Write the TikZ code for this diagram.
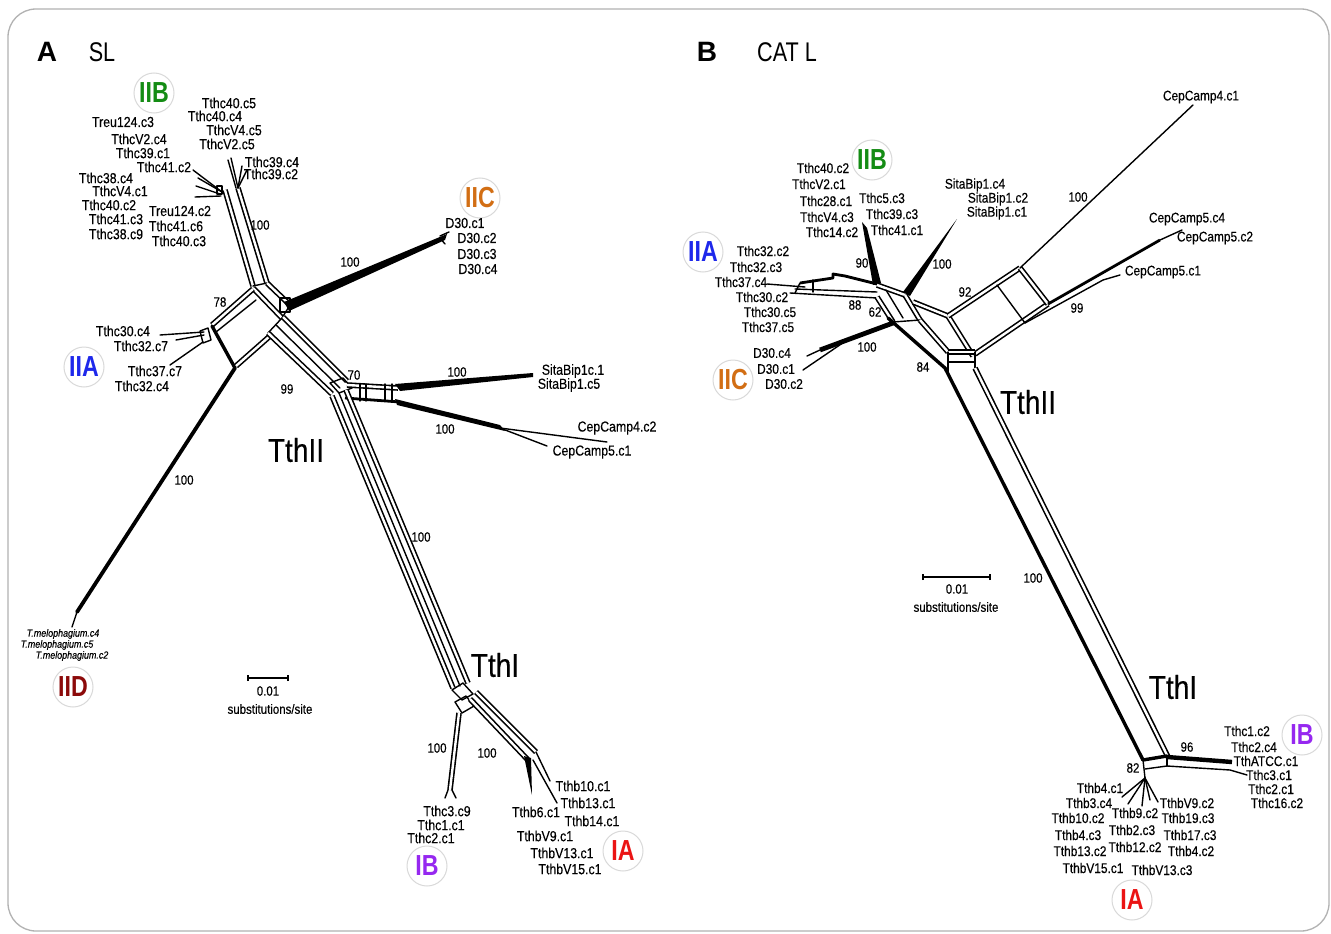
\documentclass[tikz,border=0pt]{standalone}
\usepackage{fontspec}
\setmainfont{Liberation Sans}
\newfontfamily\labf[FakeStretch=0.85,FakeBold=0.3]{Liberation Sans}
\newfontfamily\grpf[FakeStretch=0.8]{Liberation Sans}
\newfontfamily\cladef[FakeStretch=0.8]{Liberation Sans Bold}
\definecolor{cIIB}{RGB}{20,140,20}
\definecolor{cIIC}{RGB}{210,110,20}
\definecolor{cIIA}{RGB}{30,40,235}
\definecolor{cIID}{RGB}{140,10,10}
\definecolor{cIB}{RGB}{150,40,240}
\definecolor{cIA}{RGB}{235,20,20}
\tikzset{
  ln/.style={line width=1.4pt, line join=round, line cap=round},
  dbl/.style={line width=1.6pt, double=white, double distance=2.4pt, line join=round},
  hv/.style={line width=3.4pt, line join=round, line cap=round},
  lab/.style={inner sep=0pt, font=\labf\fontsize{14.5}{15}\selectfont},
  labb/.style={inner sep=0pt, font=\labf\fontsize{14}{15}\selectfont},
  bs/.style={inner sep=0pt, font=\labf\fontsize{13.5}{14}\selectfont},
  clade/.style={inner sep=0pt, font=\labf\fontsize{33}{34}\selectfont},
  grp/.style={circle, draw=black!15, line width=1pt, minimum size=40pt, inner sep=0pt, fill=white, font=\cladef\fontsize{29}{30}\selectfont},
  panel/.style={inner sep=0pt, font=\bfseries\fontsize{28}{30}\selectfont},
  ptitle/.style={inner sep=0pt, font=\grpf\fontsize{27}{28}\selectfont},
  mel/.style={inner sep=0pt, font=\labf\itshape\fontsize{10.5}{11}\selectfont},
  scalebar/.style={line width=1.7pt},
}
\begin{document}
\begin{tikzpicture}[x=1pt,y=-1pt]
\useasboundingbox (0,0) rectangle (1331,934);
\fill[white] (0,0) rectangle (1331,934);
% slide frame
\draw[gray!60, line width=1.3pt, rounded corners=28pt] (8,9) rectangle (1329,931);

% ================= panel A : SL network =================
% IIB stem with its tip fans
\draw[dbl] (225,190) -- (253,286);
\draw[dbl] (238,188) -- (267,283);
\draw[ln] (222,192) -- (193,170);
\draw[ln] (222,192) -- (198,178);
\draw[ln] (220,194) -- (196,186);
\draw[ln] (221,196) -- (195,197);
\draw[ln] (217,186) rectangle (222,194);
\draw[ln] (238,188) -- (231,158);
\draw[ln] (238,188) -- (242,166);
\draw[ln] (238,188) -- (247,170);
\draw[ln] (236,188) -- (228,160);
% central hub
\draw[ln] (253,286) -- (267,283);
\draw[dbl] (253,288) -- (282,318);
\draw[dbl] (267,283) -- (290,305);
\draw[ln] (282,318) -- (290,305);
\draw[ln] (282,318) -- (268,333);
% IIC wedge
\draw[ln] (280,298) rectangle (290,312);
\fill (284,302) -- (447,234) -- (445,240) -- (289,311) -- cycle;
\draw[ln] (440,236) -- (449,232);
\draw[ln] (440,238) -- (445,244);
% IIA box and leaves
\draw[dbl] (253,289) -- (212,325);
\draw[hv] (212,326) -- (235,368);
\draw[dbl] (236,366) -- (270,336);
\draw[ln] (216,332) -- (256,300);
\draw[ln] (200,331) -- (208,328) -- (211,340) -- (203,343) -- cycle;
\draw[ln] (204,332) -- (160,335);
\draw[ln] (204,335) -- (176,340);
\draw[ln] (203,342) -- (170,365);
% IID branch
\draw[line width=3.8pt, line cap=round] (235,368) -- (77,612);
\draw[ln] (77,612) -- (72,627);
\draw[ln] (78,610) -- (84,603);
% hub to node 70
\draw[dbl] (268,333) -- (332,394);
\draw[dbl] (283,317) -- (347,381);
\draw[ln] (276,325) -- (340,388);
% node 70 and the SitaBip / CepCamp split
\draw[ln] (330,383) -- (343,378) -- (352,388) -- (339,393) -- cycle;
\draw[dbl] (347,385) -- (398,388);
\draw[line width=2.8pt] (345,398) -- (400,402);
\foreach \xx in {360,366,385,392} \draw[ln] (\xx,384) -- (\xx,401);
\fill (395,384) -- (533,373) -- (533,377) -- (400,391) -- cycle;
\fill (395,399) -- (500,425) -- (505,431) -- (397,405) -- cycle;
\draw[ln] (500,428) -- (607,442);
\draw[ln] (500,428) -- (547,446);
% long TthII -> TthI band
\draw[dbl] (332,396) -- (453,688);
\draw[dbl] (346,390) -- (468,683);
\draw[ln] (339,393) -- (460,686);
% TthI node
\draw[ln] (452,690) -- (463,683) -- (473,694) -- (462,700) -- cycle;
\draw[ln] (455,702) -- (466,696) -- (474,706) -- (462,713) -- cycle;
% IB branch
\draw[dbl] (459,713) -- (450,790);
\draw[ln] (448,790) -- (445,798);
\draw[ln] (452,790) -- (456,798);
% IA branch
\draw[dbl] (470,699) -- (528,760);
\draw[dbl] (476,692) -- (536,752);
\fill (524,756) -- (532,795) -- (531,758) -- cycle;
\draw[ln] (536,752) -- (550,781);
\draw[ln] (533,760) -- (557,803);

% panel A labels
\node[panel] (pA) at (47,52) {A};
\node[ptitle] (tA) at (102,52) {SL};
\node[grp, text=cIIB] (gIIBa) at (154,93) {IIB};
\node[lab] (a1) at (229,103) {Tthc40.c5};
\node[lab] (a2) at (215,116) {Tthc40.c4};
\node[lab] (a3) at (234,130) {TthcV4.c5};
\node[lab] (a4) at (227,144) {TthcV2.c5};
\node[lab] (a5) at (272,162) {Tthc39.c4};
\node[lab] (a6) at (271,174) {Tthc39.c2};
\node[lab] (a7) at (123,122) {Treu124.c3};
\node[lab] (a8) at (139,139) {TthcV2.c4};
\node[lab] (a9) at (143,153) {Tthc39.c1};
\node[lab] (a10) at (164,167) {Tthc41.c2};
\node[lab] (a11) at (106,178) {Tthc38.c4};
\node[lab] (a12) at (120,191) {TthcV4.c1};
\node[lab] (a13) at (109,205) {Tthc40.c2};
\node[lab] (a14) at (116,219) {Tthc41.c3};
\node[lab] (a15) at (116,234) {Tthc38.c9};
\node[lab] (a16) at (180,211) {Treu124.c2};
\node[lab] (a17) at (176,226) {Tthc41.c6};
\node[lab] (a18) at (179,241) {Tthc40.c3};
\node[bs] (ab1) at (260,225) {100};
\node[grp, text=cIIC] (gIICa) at (480,198) {IIC};
\node[lab] (a19) at (465,223) {D30.c1};
\node[lab] (a20) at (477,238) {D30.c2};
\node[lab] (a21) at (477,254) {D30.c3};
\node[lab] (a22) at (478,269) {D30.c4};
\node[bs] (ab2) at (350,262) {100};
\node[bs] (ab3) at (220,302) {78};
\node[lab] (a23) at (123,331) {Tthc30.c4};
\node[lab] (a24) at (141,346) {Tthc32.c7};
\node[lab] (a25) at (155,371) {Tthc37.c7};
\node[lab] (a26) at (142,386) {Tthc32.c4};
\node[grp, text=cIIA] (gIIAa) at (84,367) {IIA};
\node[bs] (ab4) at (287,389) {99};
\node[bs] (ab5) at (354,375) {70};
\node[bs] (ab6) at (457,372) {100};
\node[lab] (a27) at (573,371) {SitaBip1c.1};
\node[lab] (a28) at (569,385) {SitaBip1.c5};
\node[bs] (ab7) at (445,429) {100};
\node[lab] (a29) at (617,428) {CepCamp4.c2};
\node[lab] (a30) at (592,452) {CepCamp5.c1};
\node[clade] (cTthIIa) at (296,450) {TthII};
\node[bs] (ab8) at (184,480) {100};
\node[bs] (ab9) at (421,537) {100};
\node[mel] (a31) at (63,634) {T.melophagium.c4};
\node[mel] (a32) at (57,645) {T.melophagium.c5};
\node[mel] (a33) at (72,656) {T.melophagium.c2};
\node[grp, text=cIID] (gIIDa) at (73,687) {IID};
\coordinate (sa1) at (248,678);
\coordinate (sa2) at (288,678);
\draw[scalebar] (sa1) -- (sa2);
\draw[scalebar] ([yshift=-3pt]sa1) -- ([yshift=3pt]sa1);
\draw[scalebar] ([yshift=-3pt]sa2) -- ([yshift=3pt]sa2);
\node[bs] (sca) at (268,691) {0.01};
\node[bs] (scb) at (270,709) {substitutions/site};
\node[clade] (cTthIa) at (495,665) {TthI};
\node[bs] (ab10) at (437,748) {100};
\node[bs] (ab11) at (487,753) {100};
\node[lab] (a34) at (447,811) {Tthc3.c9};
\node[lab] (a35) at (441,825) {Tthc1.c1};
\node[lab] (a36) at (431,838) {Tthc2.c1};
\node[grp, text=cIB] (gIBa) at (427,866) {IB};
\node[lab] (a37) at (583,786) {Tthb10.c1};
\node[lab] (a38) at (588,803) {Tthb13.c1};
\node[lab] (a39) at (592,821) {Tthb14.c1};
\node[lab] (a40) at (536,812) {Tthb6.c1};
\node[lab] (a41) at (545,836) {TthbV9.c1};
\node[lab] (a42) at (562,853) {TthbV13.c1};
\node[lab] (a43) at (570,869) {TthbV15.c1};
\node[grp, text=cIA] (gIAa) at (623,851) {IA};

% ================= panel B : CAT L network =================
% IIB and SitaBip spokes
\fill (862,222) -- (867,228) -- (881,283) -- (873,285) -- cycle;
\fill (957,219) -- (910,296) -- (903,292) -- cycle;
% IIA band
\draw[ln] (767,284) -- (805,287);
\draw[line width=2.8pt, line join=round] (800,283) -- (833,278) -- (833,274) -- (845,276) -- (877,284);
\draw[ln] (795,289) -- (877,292);
\draw[ln] (790,293) -- (877,298);
\draw[ln] (800,283) -- (795,293);
\draw[ln] (813,280) -- (813,292);
% hub
\draw[dbl] (877,285) -- (905,295);
\draw[dbl] (877,297) -- (893,322);
\draw[dbl] (905,295) -- (920,320);
\draw[ln] (893,322) -- (920,320);
\draw[ln] (886,290) -- (903,318);
% IIC spoke
\draw[line width=4.8pt] (893,323) -- (820,350);
\draw[ln] (820,350) -- (807,356);
\draw[ln] (850,338) -- (803,370);
% hub to the CepCamp box
\draw[dbl] (913,302) -- (948,316);
\draw[dbl] (948,316) -- (973,356);
\draw[dbl] (920,320) -- (948,352);
% CepCamp box and leaves
\draw[dbl] (948,316) -- (1020,268);
\draw[dbl] (975,354) -- (1048,304);
\draw[ln] (997,285) -- (1025,323);
\draw[dbl] (1020,268) -- (1048,304);
\draw[ln] (1020,268) -- (1193,105);
\draw[line width=2.8pt] (1048,304) -- (1160,240);
\draw[ln] (1160,240) -- (1182,230);
\draw[ln] (1025,323) -- (1103,280) -- (1120,275);
% small grid below the hub
\draw[dbl] (948,352) -- (975,352);
\draw[ln] (948,362) -- (975,362);
\draw[ln] (948,352) -- (948,372);
\draw[ln] (975,352) -- (975,372);
% long TthII -> TthI band
\draw[hv] (888,318) -- (945,368) -- (1143,760);
\draw[dbl] (975,368) -- (1168,757);
% node 82 with IB and IA
\draw[hv] (1143,760) -- (1167,756);
\draw[line width=4.4pt] (1167,757) -- (1232,762);
\draw[ln] (1145,769) -- (1167,766) -- (1230,770) -- (1247,775);
\draw[ln] (1143,760) -- (1145,778);
\draw[ln] (1167,757) -- (1167,766);
\foreach \tx/\ty in {1122/797, 1128/804, 1142/806, 1150/800, 1158/802}
  \draw[ln] (1145,778) -- (\tx,\ty);

% panel B labels
\node[panel] (pB) at (707,52) {B};
\node[ptitle] (tB) at (787,52) {CAT L};
\node[labb] (b1) at (1201,97) {CepCamp4.c1};
\node[grp, text=cIIB] (gIIBb) at (872,160) {IIB};
\node[labb] (b2) at (823,168) {Tthc40.c2};
\node[labb] (b3) at (819,184) {TthcV2.c1};
\node[labb] (b4) at (826,201) {Tthc28.c1};
\node[labb] (b5) at (827,217) {TthcV4.c3};
\node[labb] (b6) at (832,232) {Tthc14.c2};
\node[labb] (b7) at (882,198) {Tthc5.c3};
\node[labb] (b8) at (892,214) {Tthc39.c3};
\node[labb] (b9) at (897,230) {Tthc41.c1};
\node[labb] (b10) at (975,185) {SitaBip1.c4};
\node[labb] (b11) at (998,199) {SitaBip1.c2};
\node[labb] (b12) at (997,213) {SitaBip1.c1};
\node[bs] (bb1) at (1078,197) {100};
\node[labb] (b13) at (1187,219) {CepCamp5.c4};
\node[labb] (b14) at (1215,238) {CepCamp5.c2};
\node[labb] (b15) at (1163,272) {CepCamp5.c1};
\node[grp, text=cIIA] (gIIAb) at (703,252) {IIA};
\node[labb] (b16) at (763,251) {Tthc32.c2};
\node[labb] (b17) at (756,267) {Tthc32.c3};
\node[labb] (b18) at (741,282) {Tthc37.c4};
\node[labb] (b19) at (762,297) {Tthc30.c2};
\node[labb] (b20) at (770,312) {Tthc30.c5};
\node[labb] (b21) at (768,327) {Tthc37.c5};
\node[bs] (bb2) at (862,263) {90};
\node[bs] (bb3) at (942,264) {100};
\node[bs] (bb4) at (965,292) {92};
\node[bs] (bb5) at (855,305) {88};
\node[bs] (bb6) at (875,312) {62};
\node[bs] (bb7) at (1077,308) {99};
\node[labb] (b22) at (772,353) {D30.c4};
\node[labb] (b23) at (776,369) {D30.c1};
\node[labb] (b24) at (784,384) {D30.c2};
\node[grp, text=cIIC] (gIICb) at (733,380) {IIC};
\node[bs] (bb8) at (867,347) {100};
\node[bs] (bb9) at (923,367) {84};
\node[clade] (cTthIIb) at (1028,402) {TthII};
\coordinate (sb1) at (923,577);
\coordinate (sb2) at (990,577);
\draw[scalebar] (sb1) -- (sb2);
\draw[scalebar] ([yshift=-3pt]sb1) -- ([yshift=3pt]sb1);
\draw[scalebar] ([yshift=-3pt]sb2) -- ([yshift=3pt]sb2);
\node[bs] (scc) at (957,589) {0.01};
\node[bs] (scd) at (956,607) {substitutions/site};
\node[bs] (bb10) at (1033,578) {100};
\node[clade] (cTthIb) at (1173,687) {TthI};
\node[labb] (b25) at (1247,731) {Tthc1.c2};
\node[labb] (b26) at (1254,747) {Tthc2.c4};
\node[labb] (b27) at (1266,761) {TthATCC.c1};
\node[labb] (b28) at (1269,775) {Tthc3.c1};
\node[labb] (b29) at (1271,789) {Tthc2.c1};
\node[labb] (b30) at (1277,803) {Tthc16.c2};
\node[grp, text=cIB] (gIBb) at (1302,735) {IB};
\node[bs] (bb11) at (1187,747) {96};
\node[bs] (bb12) at (1133,768) {82};
\node[labb] (b31) at (1100,788) {Tthb4.c1};
\node[labb] (b32) at (1089,803) {Tthb3.c4};
\node[labb] (b33) at (1078,818) {Tthb10.c2};
\node[labb] (b34) at (1078,835) {Tthb4.c3};
\node[labb] (b35) at (1080,851) {Tthb13.c2};
\node[labb] (b36) at (1093,868) {TthbV15.c1};
\node[labb] (b37) at (1135,813) {Tthb9.c2};
\node[labb] (b38) at (1132,830) {Tthb2.c3};
\node[labb] (b39) at (1135,847) {Tthb12.c2};
\node[labb] (b40) at (1162,870) {TthbV13.c3};
\node[labb] (b41) at (1187,803) {TthbV9.c2};
\node[labb] (b42) at (1188,818) {Tthb19.c3};
\node[labb] (b43) at (1190,835) {Tthb17.c3};
\node[labb] (b44) at (1191,851) {Tthb4.c2};
\node[grp, text=cIA] (gIAb) at (1132,900) {IA};
\end{tikzpicture}
\end{document}
